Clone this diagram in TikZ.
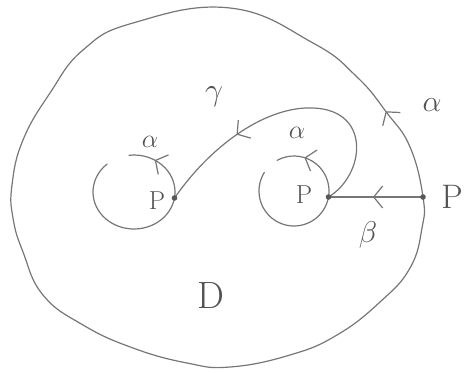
\RequirePackage{fix-cm}
\documentclass[tikz,border=0pt]{standalone}
\usetikzlibrary{calc,decorations.markings,arrows.meta}
\definecolor{pencil}{RGB}{118,118,118}
\tikzset{
  pen/.style={draw=pencil, line width=1.2pt, line cap=round},
  barb/.style={postaction=decorate, decoration={markings,
    mark=at position #1 with {\arrow[line width=1.2pt]{Straight Barb[length=9pt,width=22pt]}}}},
  lbl/.style={text=pencil!70!black, font=\fontsize{#1}{#1}\selectfont},
  lbl/.default=28
}
\begin{document}
\begin{tikzpicture}[x=1pt,y=-1pt]
  \useasboundingbox (0,0) rectangle (465,374);
  \coordinate (L) at (134,192); \coordinate (R) at (294,191);
  \coordinate (P1) at (174.5,198); \coordinate (P2) at (328.5,197);
  \coordinate (P3) at (423,197);
  \draw[pen, barb=0.036] plot[smooth cycle, tension=0.75] coordinates {(P3) (410,147) (387,113)
    (357,77) (313,43) (230,8) (133,23) (83,50) (50,93) (23,140) (12,185) (13,218) (23,252)
    (43,295) (83,325) (133,348) (187,363) (230,367) (290,355) (337,335) (380,302) (410,268)
    (422,228)};
  \draw[pen, barb=0.88] ($(L)+(229:41 and 37)$) arc[start angle=229, end angle=-97, x radius=41, y radius=37];
  \draw[pen, barb=0.86] ($(R)+(212:35)$) arc[start angle=212, end angle=-119, radius=35];
  \draw[pen, barb=0.7] (P2) .. controls (365,175) and (372,110) .. (313,108)
    .. controls (270,106) and (215,140) .. (P1);
  \draw[pen, barb=0.53] (P3) -- (P2);
  \foreach \p in {P1,P2,P3}
    \fill[pencil!75!black] (\p) circle (2.8pt);
  \node[lbl=32] (ga) at (214,97) {$\gamma$};
  \node[lbl=26] (al) at (150,142) {$\alpha$};
  \node[lbl=26] (ar) at (297,133) {$\alpha$};
  \node[lbl=30] (ao) at (432,105) {$\alpha$};
  \node[lbl=26] (pl) at (157,201) {P};
  \node[lbl=26] (pr) at (304,195) {P};
  \node[lbl=34] (po) at (452,197) {P};
  \node[lbl=30] (be) at (368,235) {$\beta$};
  \node[lbl=38] (dd) at (211,296) {D};
\end{tikzpicture}
\end{document}
